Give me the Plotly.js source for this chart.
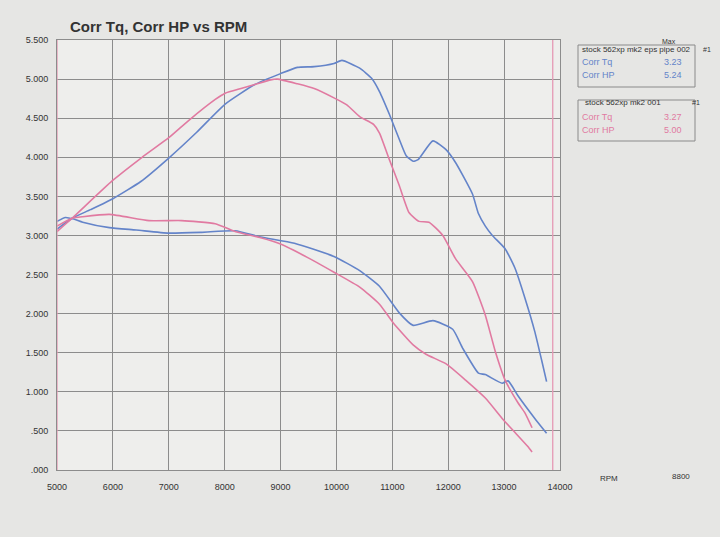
<!DOCTYPE html>
<html>
<head>
<meta charset="utf-8">
<script src="https://cdn.plot.ly/plotly-3.0.1.min.js"></script>
<style>html,body{margin:0;padding:0;background:#e6e6e4;}#chart{width:720px;height:537px;}</style>
</head>
<body>
<div id="chart"></div>
<script>
// ---- data ----
const xTicks = [5000, 6000, 7000, 8000, 9000, 10000, 11000, 12000, 13000, 14000];
const xTickLabels = ["5000", "6000", "7000", "8000", "9000", "10000", "11000", "12000", "13000", "14000"];
const yTicks = [0, 0.5, 1, 1.5, 2, 2.5, 3, 3.5, 4, 4.5, 5, 5.5];
const yTickLabels = [".000", ".500", "1.000", "1.500", "2.000", "2.500", "3.000", "3.500", "4.000", "4.500", "5.000", "5.500"];

// Run 002 (eps pipe) - blue
const epsHpRpm = [5000, 5270, 5600, 6000, 6500, 7000, 7500, 8009, 8540, 9000, 9301, 9602, 9956, 10098, 10416, 10629, 10770, 10947, 11124, 11248, 11372, 11461, 11726, 11956, 12133, 12434, 12540, 12664, 12790, 13018, 13195, 13372, 13549, 13673, 13760];
const epsHp = [3.08, 3.22, 3.33, 3.47, 3.69, 3.99, 4.32, 4.68, 4.93, 5.07, 5.15, 5.16, 5.20, 5.24, 5.14, 5.01, 4.84, 4.55, 4.23, 4.02, 3.95, 3.97, 4.21, 4.10, 3.93, 3.53, 3.28, 3.12, 3.00, 2.83, 2.58, 2.20, 1.77, 1.40, 1.13];
const epsTqRpm = [5000, 5150, 5300, 5460, 5938, 6416, 7000, 7584, 8186, 8646, 9248, 9956, 10416, 10770, 11124, 11372, 11726, 12080, 12257, 12540, 12664, 12965, 13071, 13248, 13549, 13760];
const epsTq = [3.18, 3.23, 3.21, 3.17, 3.10, 3.07, 3.03, 3.04, 3.06, 2.98, 2.90, 2.73, 2.55, 2.35, 2.01, 1.85, 1.91, 1.80, 1.56, 1.24, 1.22, 1.11, 1.14, 0.95, 0.66, 0.47];

// Run 001 (stock) - pink
const stockHpRpm = [5000, 5270, 5991, 6522, 7000, 7354, 7832, 8009, 8292, 8540, 8823, 8947, 9301, 9602, 9956, 10186, 10416, 10664, 10770, 10947, 11124, 11301, 11478, 11655, 11903, 12133, 12434, 12664, 12841, 13018, 13248, 13372, 13500];
const stockHp = [3.05, 3.22, 3.70, 4.00, 4.25, 4.47, 4.74, 4.82, 4.88, 4.93, 4.99, 5.00, 4.94, 4.88, 4.76, 4.67, 4.52, 4.42, 4.31, 3.97, 3.64, 3.29, 3.18, 3.17, 3.00, 2.70, 2.41, 1.98, 1.52, 1.15, 0.86, 0.73, 0.54];
const stockTqRpm = [5000, 5270, 5460, 5938, 6646, 7230, 7832, 8186, 8646, 9000, 9478, 9956, 10416, 10770, 11018, 11372, 11602, 11956, 12310, 12664, 12965, 13195, 13425, 13500];
const stockTq = [3.12, 3.22, 3.24, 3.27, 3.19, 3.19, 3.15, 3.05, 2.97, 2.89, 2.72, 2.53, 2.34, 2.12, 1.88, 1.60, 1.48, 1.36, 1.15, 0.92, 0.66, 0.48, 0.30, 0.23];

const cursorRpm = [5000, 13870];

const legendRuns = ["stock 562xp mk2 eps pipe 002", "stock 562xp mk2 001"];
const legendNames = ["Corr Tq", "Corr HP"];
const legendMaxEps = ["3.23", "5.24"];
const legendMaxStock = ["3.27", "5.00"];

// ---- styling / layout ----
const BLUE = "#6484c9";
const PINK = "#e17aa1";
const FONT = "Liberation Sans, Arial, sans-serif";
const L = 57, R = 560, T = 40, B = 470;
const px = x => (x - L) / (R - L);
const py = y => (B - y) / (B - T);

function line(x, y, c) {
  return {x: x, y: y, type: "scatter", mode: "lines", line: {color: c, width: 1.6, shape: "spline", smoothing: 0.5}, showlegend: false, hoverinfo: "skip"};
}
const traces = [
  line(epsHpRpm, epsHp, BLUE),
  line(epsTqRpm, epsTq, BLUE),
  line(stockHpRpm, stockHp, PINK),
  line(stockTqRpm, stockTq, PINK)
];

const shapes = cursorRpm.map(r => ({type: "line", xref: "x", yref: "paper", x0: r, x1: r, y0: 0, y1: 1, line: {color: "#e59ab5", width: 1.3}}));
shapes.push({type: "rect", xref: "paper", yref: "paper", x0: px(578), x1: px(695), y0: py(87), y1: py(45), line: {color: "#8a8a8a", width: 1}});
shapes.push({type: "rect", xref: "paper", yref: "paper", x0: px(578), x1: px(695), y0: py(141), y1: py(100), line: {color: "#8a8a8a", width: 1}});

function ann(text, x, y, opts) {
  return Object.assign({text: text, xref: "paper", yref: "paper", x: px(x), y: py(y), showarrow: false, xanchor: "left", yanchor: "middle", font: {family: FONT, size: 8, color: "#333"}}, opts || {});
}
const annotations = [
  ann("RPM", 598, 478, {font: {family: FONT, size: 8, color: "#333"}}),
  ann("8800", 670, 476, {font: {family: FONT, size: 8, color: "#333"}}),
  ann("Max", 660, 41, {font: {family: FONT, size: 7, color: "#333"}}),
  ann(legendRuns[0], 580, 49, {font: {family: FONT, size: 8, color: "#333"}}),
  ann("#1", 701, 49, {font: {family: FONT, size: 7, color: "#333"}}),
  ann(legendNames[0], 580, 62, {font: {family: FONT, size: 9, color: BLUE}}),
  ann(legendMaxEps[0], 662, 62, {font: {family: FONT, size: 9, color: BLUE}}),
  ann(legendNames[1], 580, 75, {font: {family: FONT, size: 9, color: BLUE}}),
  ann(legendMaxEps[1], 662, 75, {font: {family: FONT, size: 9, color: BLUE}}),
  ann(legendRuns[1], 583, 102, {font: {family: FONT, size: 8, color: "#333"}}),
  ann("#1", 690, 102, {font: {family: FONT, size: 7, color: "#333"}}),
  ann(legendNames[0], 580, 117, {font: {family: FONT, size: 9, color: PINK}}),
  ann(legendMaxStock[0], 662, 117, {font: {family: FONT, size: 9, color: PINK}}),
  ann(legendNames[1], 580, 130, {font: {family: FONT, size: 9, color: PINK}}),
  ann(legendMaxStock[1], 662, 130, {font: {family: FONT, size: 9, color: PINK}})
];

const layout = {
  width: 720, height: 537,
  margin: {l: L, r: 720 - R, t: T, b: 537 - B},
  paper_bgcolor: "#e6e6e4",
  plot_bgcolor: "#eeeeec",
  title: {text: "<b>Corr Tq, Corr HP vs RPM</b>", x: 70 / 720, xanchor: "left", xref: "container", y: 1 - 27 / 537, yanchor: "middle", yref: "container", font: {family: FONT, size: 15, color: "#333"}},
  xaxis: {range: [5000, 14000], tickvals: xTicks, ticktext: xTickLabels, showgrid: true, gridcolor: "#8c8c8c", gridwidth: 1, zeroline: false, showline: true, linecolor: "#8c8c8c", mirror: true, ticks: "", ticklabelstandoff: 8, tickfont: {family: FONT, size: 9, color: "#333"}, fixedrange: true},
  yaxis: {range: [0, 5.5], tickvals: yTicks, ticktext: yTickLabels, showgrid: true, gridcolor: "#8c8c8c", gridwidth: 1, zeroline: false, showline: true, linecolor: "#8c8c8c", mirror: true, ticks: "", ticklabelstandoff: 6, tickfont: {family: FONT, size: 9, color: "#333"}, fixedrange: true},
  shapes: shapes,
  annotations: annotations,
  showlegend: false
};

Plotly.newPlot("chart", traces, layout, {staticPlot: true, displayModeBar: false});
</script>
</body>
</html>
